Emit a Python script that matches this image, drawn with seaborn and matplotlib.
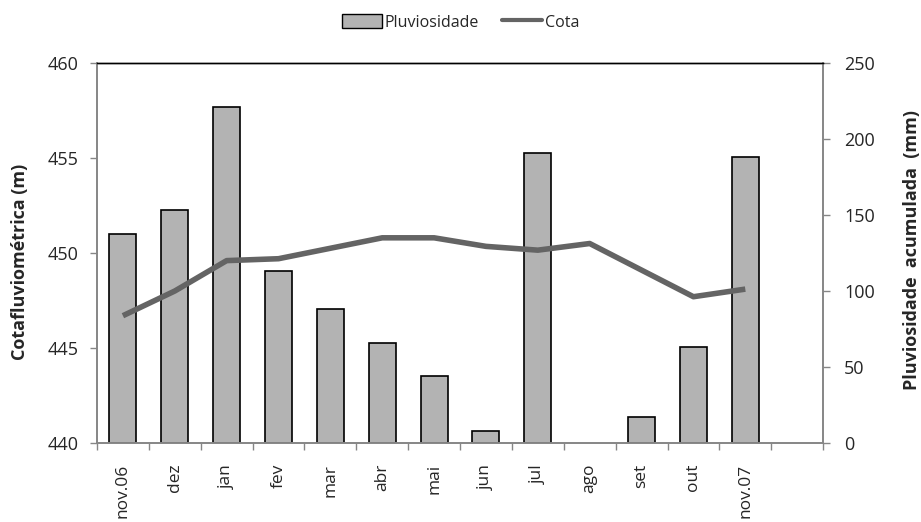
import numpy as np
import pandas as pd
import matplotlib
matplotlib.use('Agg')
import matplotlib.pyplot as plt
import seaborn as sns
from matplotlib.patches import Patch
from matplotlib.lines import Line2D

# dados
meses = ['nov.06', 'dez', 'jan', 'fev', 'mar', 'abr', 'mai', 'jun', 'jul',
         'ago', 'set', 'out', 'nov.07']
pluviosidade = [137.5, 153, 221, 113, 88, 66, 44, 8, 191, np.nan, 17, 63, 188]
cota = [446.7, 448.0, 449.6, 449.7, 450.25, 450.8, 450.8, 450.35, 450.15,
        450.5, 449.1, 447.7, 448.1]

sns.set_style('white')
plt.rcParams['font.family'] = ['Open Sans', 'DejaVu Sans']

cinza = '#868686'
df = pd.DataFrame({'mes': meses, 'pluv': pluviosidade, 'cota': cota})

fig = plt.figure(figsize=(9.21, 5.22), dpi=100)
ax = fig.add_axes([0.1053, 0.1513, 0.7884, 0.728])
ax2 = ax.twinx()

# barras no eixo da direita
sns.barplot(data=df, x='mes', y='pluv', order=meses, ax=ax2, color='#b3b3b3',
            saturation=1, width=0.52, edgecolor='black', linewidth=1.2)

# linha no eixo da esquerda
sns.lineplot(x=np.arange(len(meses)), y=df['cota'], ax=ax, color='#646464',
             linewidth=4, solid_capstyle='butt')

ax.set_zorder(ax2.get_zorder() + 1)
ax.patch.set_visible(False)

ax.set_xlim(-0.5, 13.5)
ax.set_ylim(440, 460)
ax2.set_ylim(0, 250)
ax.set_yticks([440, 445, 450, 455, 460])
ax2.set_yticks([0, 50, 100, 150, 200, 250])

ax.set_xticks(np.arange(len(meses)))
ax.set_xticklabels(meses, rotation=90, va='top', ha='center')
ax.set_xticks(np.arange(-0.5, 14, 1), minor=True)
ax.tick_params(axis='x', which='major', length=0, pad=15, labelsize=12.5)
ax.tick_params(axis='x', which='minor', length=5, color=cinza, width=1,
               direction='out', bottom=True)
ax.tick_params(axis='y', length=5, color=cinza, width=1, direction='out',
               left=True, labelsize=13, pad=8)
ax2.tick_params(axis='y', length=5, color=cinza, width=1, direction='out',
                right=True, labelsize=13, pad=10)

for a in (ax, ax2):
    for lado in ('left', 'right', 'bottom'):
        a.spines[lado].set_color(cinza)
        a.spines[lado].set_linewidth(1.2)
    a.spines['top'].set_color('black')
    a.spines['top'].set_linewidth(1)

ax.set_xlabel('')
ax2.set_xlabel('')
ax.set_ylabel('Cotafluviométrica (m)', fontsize=13, fontweight='bold')
ax2.set_ylabel('Pluviosidade  acumulada  (mm)', fontsize=13, fontweight='bold')
ax.yaxis.set_label_coords(20 / 921, 0.498, transform=fig.transFigure)
ax2.yaxis.set_label_coords(912 / 921, 0.522, transform=fig.transFigure)
ax.yaxis.label.set_va('center')
ax2.yaxis.label.set_va('center')

handles = [Patch(facecolor='#b3b3b3', edgecolor='black', linewidth=1),
           Line2D([0], [0], color='#646464', linewidth=3)]
fig.legend(handles, ['Pluviosidade', 'Cota'], loc='center',
           bbox_to_anchor=(0.5, 0.957), ncol=2, frameon=False, fontsize=11.5,
           handlelength=2.5, handleheight=0.9, handletextpad=0.15,
           columnspacing=1.5)

fig.savefig('out.png', dpi=100)
